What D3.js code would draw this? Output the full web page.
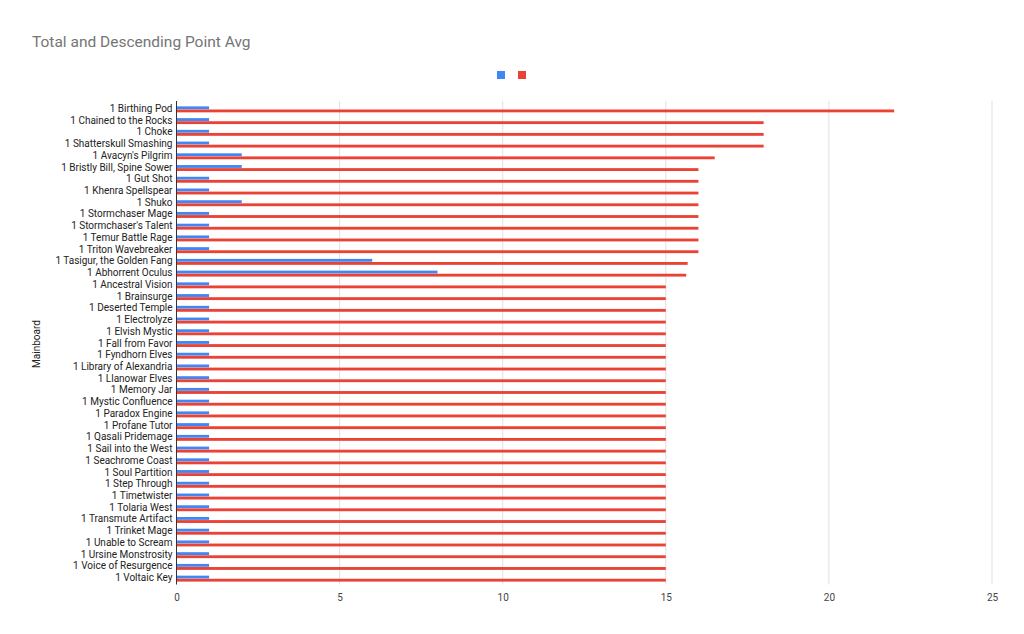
<!DOCTYPE html>
<html>
<head>
<meta charset="utf-8">
<script src="https://cdn.jsdelivr.net/npm/d3@7"></script>
<style>
  body { margin: 0; background: #fff; }
  svg { display: block; font-family: Roboto, Arial, sans-serif; }
</style>
</head>
<body>
<svg id="chart" width="1024" height="634"></svg>
<script>
const cards = [
  "1 Birthing Pod", "1 Chained to the Rocks", "1 Choke", "1 Shatterskull Smashing",
  "1 Avacyn's Pilgrim", "1 Bristly Bill, Spine Sower", "1 Gut Shot", "1 Khenra Spellspear",
  "1 Shuko", "1 Stormchaser Mage", "1 Stormchaser's Talent", "1 Temur Battle Rage",
  "1 Triton Wavebreaker", "1 Tasigur, the Golden Fang", "1 Abhorrent Oculus",
  "1 Ancestral Vision", "1 Brainsurge", "1 Deserted Temple", "1 Electrolyze",
  "1 Elvish Mystic", "1 Fall from Favor", "1 Fyndhorn Elves", "1 Library of Alexandria",
  "1 Llanowar Elves", "1 Memory Jar", "1 Mystic Confluence", "1 Paradox Engine",
  "1 Profane Tutor", "1 Qasali Pridemage", "1 Sail into the West", "1 Seachrome Coast",
  "1 Soul Partition", "1 Step Through", "1 Timetwister", "1 Tolaria West",
  "1 Transmute Artifact", "1 Trinket Mage", "1 Unable to Scream", "1 Ursine Monstrosity",
  "1 Voice of Resurgence", "1 Voltaic Key"
];
const total = [
  1, 1, 1, 1, 2, 2, 1, 1, 2, 1, 1, 1, 1, 6, 8,
  1, 1, 1, 1, 1, 1, 1, 1, 1, 1, 1, 1, 1, 1, 1, 1, 1, 1, 1, 1, 1, 1, 1, 1, 1, 1
];
const descAvg = [
  22, 18, 18, 18, 16.5, 16, 16, 16, 16, 16, 16, 16, 16, 15.67, 15.625,
  15, 15, 15, 15, 15, 15, 15, 15, 15, 15, 15, 15, 15, 15, 15, 15, 15, 15, 15, 15, 15, 15, 15, 15, 15, 15
];
const xTicks = [0, 5, 10, 15, 20, 25];
const seriesKeys = ["total", "descAvg"];
const colors = { total: "#4285f4", descAvg: "#ea4335" };

const rows = cards.map((c, i) => ({ card: c, total: total[i], descAvg: descAvg[i] }));

const svg = d3.select("#chart");
const margin = { left: 176.5, right: 1024 - 992, top: 103.5, bottom: 634 - 584.5 };
const W = 1024, H = 634;

const x = d3.scaleLinear().domain([0, 25]).range([margin.left, W - margin.right]);
const y = d3.scaleBand().domain(cards).range([margin.top, H - margin.bottom])
  .paddingInner(0.45).paddingOuter(0.225);
const y1 = d3.scaleBand().domain(seriesKeys).range([0, y.bandwidth()]).padding(0.08);

// title
svg.append("text").attr("x", 32).attr("y", 47)
  .attr("font-size", 15.5).attr("fill", "#757575").text("Total and Descending Point Avg");

// legend (series have no names)
svg.selectAll("rect.leg").data(seriesKeys).join("rect")
  .attr("class", "leg")
  .attr("x", (d, i) => 497 + i * 21).attr("y", 71)
  .attr("width", 8).attr("height", 8)
  .attr("fill", d => colors[d]);

// grid
svg.append("g").selectAll("line").data(xTicks.slice(1)).join("line")
  .attr("x1", d => x(d)).attr("x2", d => x(d))
  .attr("y1", 101).attr("y2", H - margin.bottom)
  .attr("stroke", "#e0e0e0").attr("stroke-width", 1);

// bars
const grp = svg.append("g").selectAll("g").data(rows).join("g")
  .attr("transform", d => `translate(0,${y(d.card)})`);
grp.selectAll("rect").data(d => seriesKeys.map(k => ({ key: k, value: d[k] }))).join("rect")
  .attr("x", x(0))
  .attr("y", d => y1(d.key))
  .attr("width", d => x(d.value) - x(0))
  .attr("height", y1.bandwidth())
  .attr("fill", d => colors[d.key]);

// axis line
svg.append("line")
  .attr("x1", x(0)).attr("x2", x(0))
  .attr("y1", 101).attr("y2", H - margin.bottom)
  .attr("stroke", "#333").attr("stroke-width", 1);

// y labels
const yAxis = svg.append("g").attr("transform", `translate(${x(0) - 4},0)`)
  .call(d3.axisLeft(y).tickSize(0).tickPadding(0));
yAxis.select(".domain").remove();
yAxis.selectAll("text").attr("font-size", 10).attr("fill", "#222")
  .attr("font-family", "Roboto, Arial, sans-serif")
  .attr("dy", "0.25em");

// x labels
const xAxis = svg.append("g").attr("transform", `translate(0,${H - margin.bottom})`)
  .call(d3.axisBottom(x).tickValues(xTicks).tickSize(0).tickPadding(9));
xAxis.select(".domain").remove();
xAxis.selectAll("text").attr("font-size", 10).attr("fill", "#444")
  .attr("font-family", "Roboto, Arial, sans-serif");

// y axis title
svg.append("text")
  .attr("transform", `translate(40,${(margin.top + H - margin.bottom) / 2}) rotate(-90)`)
  .attr("text-anchor", "middle").attr("font-size", 10).attr("fill", "#222")
  .text("Mainboard");
</script>
</body>
</html>
